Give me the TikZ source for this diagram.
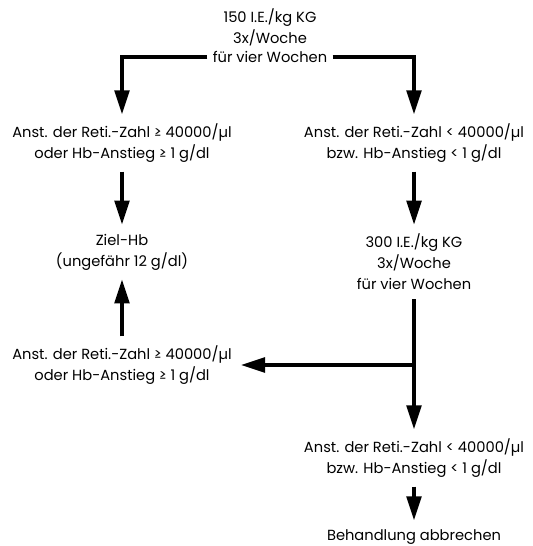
\documentclass[tikz,border=0pt]{standalone}
\usepackage{fontspec}
\setmainfont{Poppins}
\usetikzlibrary{arrows.meta}
\tikzset{
  txt/.style={align=center, inner sep=1pt, outer sep=6pt,
    font=\fontsize{11}{15.75}\selectfont},
  arr/.style={line width=2.6pt, -{Triangle[length=18pt,width=11pt]}}
}
\begin{document}
\begin{tikzpicture}[x=0.75pt,y=-0.75pt]
  \useasboundingbox (0,0) rectangle (532,546);
  \node[txt] (start) at (270,27) {150 I.E./kg KG\\3x/Woche};
  \node[txt, outer sep=3pt] (startw) at (270,57) {für vier Wochen};
  \node[txt] (upL) at (122,143) {Anst. der Reti.-Zahl ≥ 40000/µl\\oder Hb-Anstieg ≥ 1 g/dl};
  \node[txt] (upR) at (414,143) {Anst. der Reti.-Zahl < 40000/µl\\bzw. Hb-Anstieg < 1 g/dl};
  \node[txt] (ziel) at (122,252) {Ziel-Hb\\(ungefähr 12 g/dl)};
  \node[txt] (dose2) at (414,262) {300 I.E./kg KG\\3x/Woche\\für vier Wochen};
  \node[txt] (lowL) at (122,365) {Anst. der Reti.-Zahl ≥ 40000/µl\\oder Hb-Anstieg ≥ 1 g/dl};
  \node[txt] (lowR) at (414,458) {Anst. der Reti.-Zahl < 40000/µl\\bzw. Hb-Anstieg < 1 g/dl};
  \node[txt] (stop) at (414,537) {Behandlung abbrechen};
  \coordinate (split) at (dose2.south |- lowL.east);

  \draw[arr] (startw.west) -| (upL.north);
  \draw[arr] (startw.east) -| (upR.north);
  \draw[arr] (upL) -- (ziel);
  \draw[arr] (upR) -- (dose2);
  \draw[arr] (lowL) -- (ziel);
  \draw[arr] (dose2) -- (lowR);
  \draw[arr] (split) -- (lowL.east);
  \draw[arr] (lowR) -- (stop);
\end{tikzpicture}
\end{document}
